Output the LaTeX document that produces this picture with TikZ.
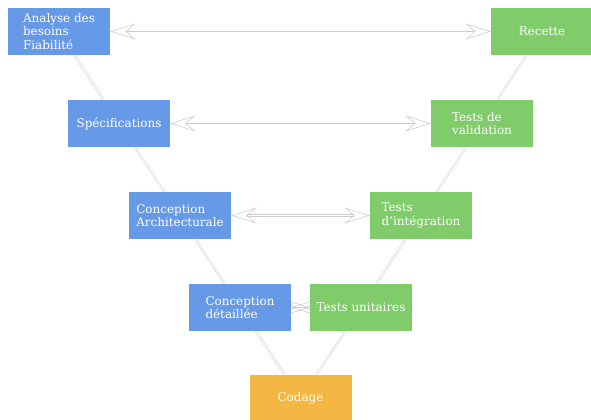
\documentclass[tikz,border=0pt]{standalone}
\usepackage{fontspec}
\setmainfont{DejaVu Serif}
\usetikzlibrary{arrows.meta,backgrounds}
\definecolor{vblue}{HTML}{6699E6}
\definecolor{vgreen}{HTML}{80CC6A}
\definecolor{vorange}{HTML}{F5B743}

\begin{document}
\begin{tikzpicture}[
      x=0.3mm,y=-0.3mm,
      every node/.style={font=\fontsize{10.2}{11.4}\selectfont,text=white},
      bx/.style={minimum width=30.6mm,minimum height=14.1mm,inner sep=2pt,align=left},
      conc/.style={bx,fill=vblue},
      tst/.style={bx,fill=vgreen},
      cod/.style={bx,fill=vorange},
      lk/.style={draw=black!20,line width=0.4pt,double=white,double distance=0.9pt},
      bi/.style={draw=black!20,line width=0.5pt,
        {Stealth[open,length=7.6mm,width=4.8mm,inset=2.8mm]}-{Stealth[open,length=7.6mm,width=4.8mm,inset=2.8mm]}}
    ]
    \useasboundingbox (0,0) rectangle (591,420);
    % left branch
    \node[conc] (an) at (59,31.5) {Analyse des\\besoins\\Fiabilité};
    \node[conc] (sp) at (119,123.5) {Spécifications};
    \node[conc] (ar) at (180,215.5) {Conception\\Architecturale};
    \node[conc] (de) at (240,307.5) {Conception\\détaillée};
    % bottom
    \node[cod] (co) at (300.5,398.5) {Codage};
    % right branch
    \node[tst] (tu) at (361,307.5) {Tests unitaires};
    \node[tst] (ti) at (421,215.5) {Tests\\d'intégration};
    \node[tst] (tv) at (482,123.5) {Tests de\\validation};
    \node[tst] (re) at (542,31.5) {Recette};
    % links (drawn behind)
    \begin{scope}[on background layer]
      \foreach \a/\b in {an/sp,sp/ar,ar/de,de/co,co/tu,tu/ti,ti/tv,tv/re}{\draw[lk] (\a) -- (\b);}
      \foreach \a/\b in {an/re,sp/tv,de/tu}{\draw[bi] (\a) -- (\b);}
      \draw[bi,double=white,double distance=0.9pt] (ar) -- (ti);
    \end{scope}
  \end{tikzpicture}
\end{document}
